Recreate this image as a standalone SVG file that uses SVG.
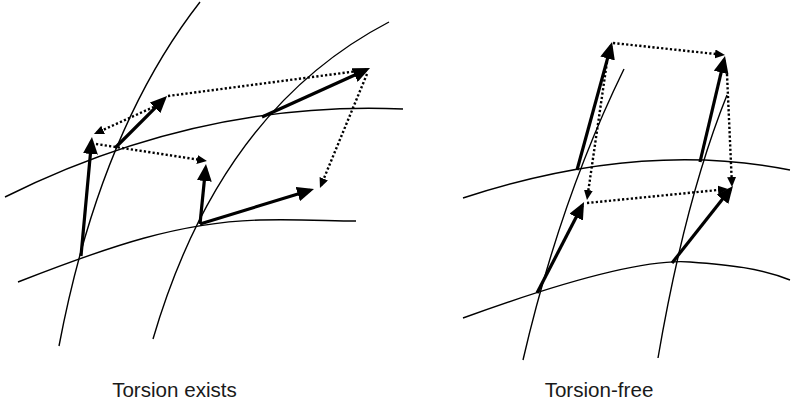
<svg xmlns="http://www.w3.org/2000/svg" width="791" height="406" viewBox="0 0 791 406">
<style>
.curve{fill:none;stroke:#000;stroke-width:1.4}
.vec{fill:none;stroke:#000;stroke-width:3.2;marker-end:url(#big)}
.dot{fill:none;stroke:#000;stroke-width:2.4;stroke-dasharray:2.2 2.2}
.dota{marker-end:url(#small)}
.lbl{font-family:"Liberation Sans",Arial,sans-serif;font-size:20.6px;fill:#1a1a1a;text-anchor:middle}
</style>
<defs>
<marker id="big" markerUnits="userSpaceOnUse" markerWidth="17" markerHeight="15" refX="13" refY="7.5" orient="auto" viewBox="0 0 17 15"><path d="M0,0 L17,7.5 L0,15 z" fill="#000"/></marker>
<marker id="small" markerUnits="userSpaceOnUse" markerWidth="10" markerHeight="9" refX="7" refY="4.5" orient="auto" viewBox="0 0 10 9"><path d="M0,0 L10,4.5 L0,9 z" fill="#000"/></marker>
</defs>
<rect width="791" height="406" fill="#fff"/>
<g id="torsion-exists">
  <g id="curves-left">
    <path class="curve" d="M200,2 Q100,130 59,346"/>
    <path class="curve" d="M389,22 Q220,110 153,339"/>
    <path class="curve" d="M5,197 Q200,100 403,109"/>
    <path class="curve" d="M18,282 C110,246 180,222 260,220 C300,219 330,221 356,221"/>
  </g>
  <g id="connectors-left">
    <path class="dot dota" d="M158,105 L96.7,132.8"/>
    <path class="dot dota" d="M96,144 L204,160.5"/>
    <path class="dot" d="M168,96 L358,71"/>
    <path class="dot dota" d="M367,74 L321.1,185.2"/>
    <path class="vec" d="M81,256 L91.6,141"/>
    <path class="vec" d="M200,224 L205.6,168"/>
    <path class="vec" d="M200,224 L310.2,190.2"/>
    <path class="vec" d="M115,148 L164.2,98.8"/>
    <path class="vec" d="M262,117 L366.4,69.7"/>
  </g>
  <text id="label-left" class="lbl" x="174.5" y="397">Torsion exists</text>
</g>
<g id="torsion-free">
  <g id="curves-right">
    <path class="curve" d="M624,69 Q560,200 523,360"/>
    <path class="curve" d="M727,95 Q685,200 658,358"/>
    <path class="curve" d="M463,198 Q640,140 790,170"/>
    <path class="curve" d="M463,318 C540,290 640,258 690,262 C730,265 760,268 790,280"/>
  </g>
  <g id="connectors-right">
    <path class="dot dota" d="M613,43 L722,54.7"/>
    <path class="dot dota" d="M607,62 L587.4,197"/>
    <path class="dot dota" d="M727,74 L731.9,184"/>
    <path class="dot dota" d="M587,203 L725,189.3"/>
    <path class="vec" d="M577,170 L611,45.9"/>
    <path class="vec" d="M700,162 L724.1,59.9"/>
    <path class="vec" d="M537,293 L582.2,205.6"/>
    <path class="vec" d="M672,263 L730.5,189.1"/>
  </g>
  <text id="label-right" class="lbl" x="599" y="397">Torsion-free</text>
</g>
</svg>
